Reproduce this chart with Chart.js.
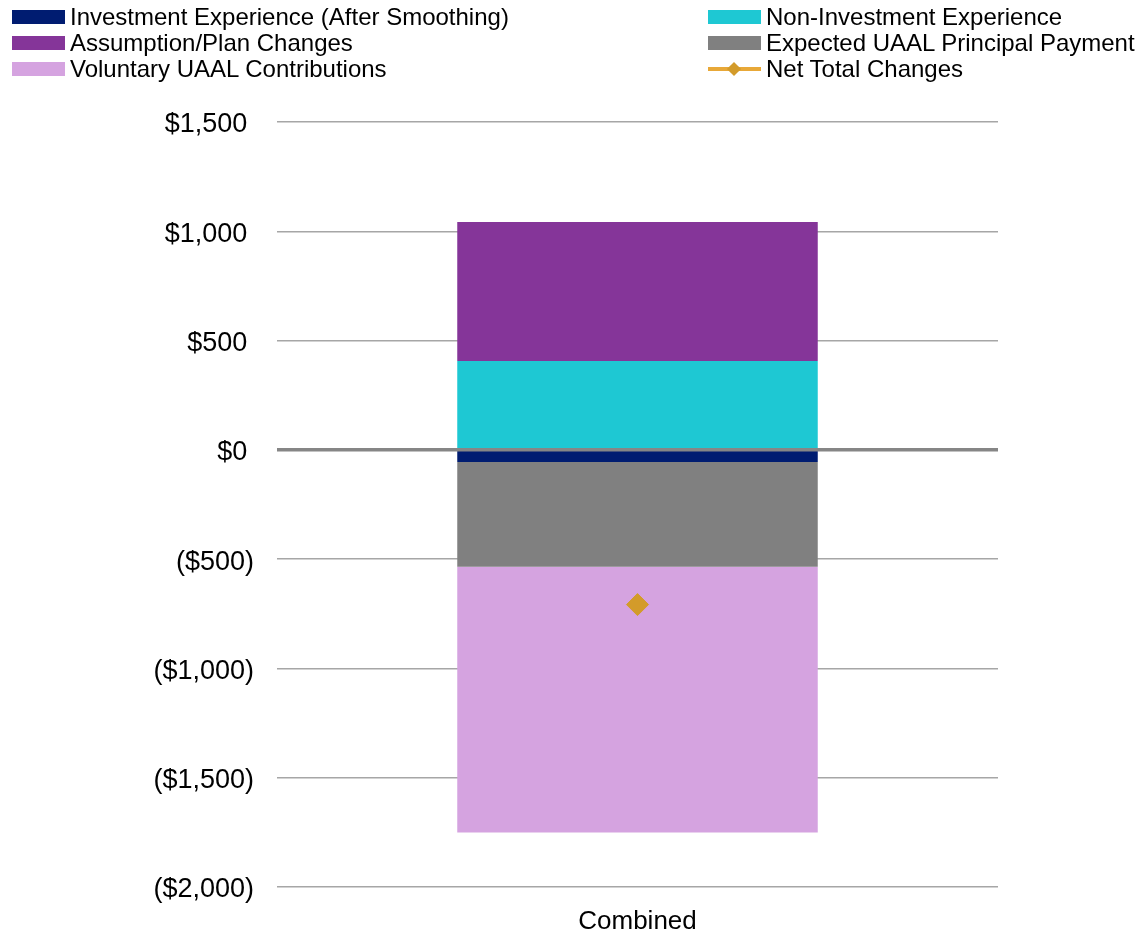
<!DOCTYPE html>
<html>
<head>
<meta charset="utf-8">
<title>UAAL Changes</title>
<script src="https://cdn.jsdelivr.net/npm/chart.js@4.4.1/dist/chart.umd.min.js"></script>
<style>
  body { margin: 0; background: #fff; font-family: "Liberation Sans", Arial, sans-serif; }
  #wrap { position: relative; width: 1142px; height: 933px; }
  #legend {
    position: absolute; left: 12px; top: 4px;
    display: grid; grid-template-columns: 696px auto;
  }
  .item { display: flex; align-items: center; height: 26px; font-size: 24px; color: #000; white-space: nowrap; }
  .swatch { position: relative; width: 53px; height: 14px; margin-right: 5px; flex: none; }
</style>
</head>
<body>
<div id="wrap">
  <canvas id="uaalChart" width="1142" height="933"></canvas>
  <div id="legend"></div>
</div>
<script>
// Dados do gráfico
const categories = ['Combined'];
const investmentExp = [-55];
const nonInvestmentExp = [407];
const assumptionChanges = [636];
const expectedPrincipal = [-480];
const voluntaryContrib = [-1216];
const netTotal = [-708];
const yTicks = [1500, 1000, 500, 0, -500, -1000, -1500, -2000];

const FONT = '"Liberation Sans", Arial, sans-serif';

function formatMoney(v) {
    const s = '$' + Math.abs(v).toLocaleString('en-US');
    // espaço no lugar do ")" para alinhar positivos e negativos
    return v < 0 ? '(' + s + ')' : s + '\u2005';
}

// Linha do zero desenhada por cima das barras
const zeroLine = {
    id: 'zeroLine',
    afterDatasetsDraw(chart) {
        const ctx = chart.ctx;
        const y = chart.scales.y.getPixelForValue(0);
        const { left, right } = chart.chartArea;
        ctx.save();
        ctx.strokeStyle = '#868686';
        ctx.lineWidth = 3.5;
        ctx.beginPath();
        ctx.moveTo(left, y);
        ctx.lineTo(right, y);
        ctx.stroke();
        ctx.restore();
    }
};

const barDefaults = { type: 'bar', stack: 'uaal', order: 1, categoryPercentage: 0.5, barPercentage: 1, borderWidth: 0 };

const chart = new Chart(document.getElementById('uaalChart'), {
    data: {
        labels: categories,
        datasets: [
            { ...barDefaults, label: 'Investment Experience (After Smoothing)', data: investmentExp, backgroundColor: '#001c71' },
            { ...barDefaults, label: 'Non-Investment Experience', data: nonInvestmentExp, backgroundColor: '#1ec8d3' },
            { ...barDefaults, label: 'Assumption/Plan Changes', data: assumptionChanges, backgroundColor: '#853599' },
            { ...barDefaults, label: 'Expected UAAL Principal Payment', data: expectedPrincipal, backgroundColor: '#808080' },
            { ...barDefaults, label: 'Voluntary UAAL Contributions', data: voluntaryContrib, backgroundColor: '#d5a3e0' },
            {
                type: 'line', label: 'Net Total Changes', data: netTotal, stack: 'net', order: 0,
                showLine: false, borderColor: '#e8a838', backgroundColor: '#d39b2a',
                pointStyle: 'rectRot', pointRadius: 11, pointBorderWidth: 1,
                pointBorderColor: '#d39b2a', pointBackgroundColor: '#d39b2a'
            }
        ]
    },
    options: {
        responsive: false,
        animation: false,
        layout: { padding: { top: 122, right: 144, bottom: 0, left: 0 } },
        plugins: { legend: { display: false }, tooltip: { enabled: false } },
        scales: {
            x: {
                stacked: true,
                grid: { display: false },
                border: { display: false },
                ticks: { color: '#000', padding: 11, font: { family: FONT, size: 26 } },
                afterFit(scale) { scale.height = 46; }
            },
            y: {
                stacked: true,
                min: -2000,
                max: 1500,
                afterBuildTicks(scale) { scale.ticks = yTicks.map(v => ({ value: v })); },
                afterFit(scale) { scale.width = 277; },
                border: { display: false },
                grid: {
                    drawTicks: false,
                    lineWidth: 1.5,
                    color: ctx => ctx.tick && ctx.tick.value === 0 ? 'rgba(0,0,0,0)' : '#a6a6a6'
                },
                ticks: {
                    color: '#000', padding: 23, labelOffset: 3,
                    font: { family: FONT, size: 27 },
                    callback: v => formatMoney(v)
                }
            }
        }
    },
    plugins: [zeroLine]
});

// Legenda em duas colunas montada a partir dos datasets
function buildLegend(chart) {
    const box = document.getElementById('legend');
    chart.data.datasets.forEach(ds => {
        const item = document.createElement('div');
        item.className = 'item';
        const sw = document.createElement('span');
        sw.className = 'swatch';
        if (ds.type === 'line') {
            sw.innerHTML =
                '<span style="position:absolute;left:0;right:0;top:5px;height:4px;background:' + ds.borderColor + '"></span>' +
                '<span style="position:absolute;left:21px;top:2px;width:10px;height:10px;transform:rotate(45deg);background:' + ds.backgroundColor + '"></span>';
        } else {
            sw.style.background = ds.backgroundColor;
        }
        const txt = document.createElement('span');
        txt.textContent = ds.label;
        item.appendChild(sw);
        item.appendChild(txt);
        box.appendChild(item);
    });
}
buildLegend(chart);
</script>
</body>
</html>
